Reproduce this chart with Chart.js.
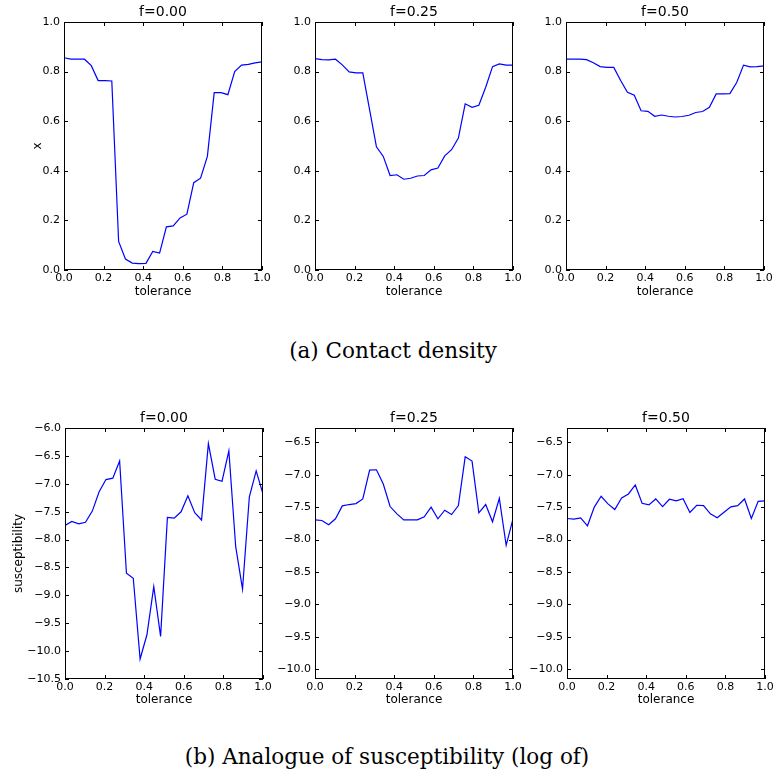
<!DOCTYPE html>
<html>
<head>
<meta charset="utf-8">
<script src="https://cdn.jsdelivr.net/npm/chart.js@4.4.1/dist/chart.umd.min.js"></script>
<style>
body { margin: 0; background: #fff; width: 774px; height: 776px; position: relative; overflow: hidden; }
canvas { position: absolute; }
.caption { position: absolute; left: 0; width: 774px; text-align: center; font-family: "DejaVu Serif"; font-size: 21.5px; line-height: 21.5px; color: #000; }
</style>
</head>
<body>
<canvas id="d0" width="276" height="300" style="left:0px;top:0px"></canvas>
<canvas id="d1" width="276" height="300" style="left:251px;top:0px"></canvas>
<canvas id="d2" width="276" height="300" style="left:502px;top:0px"></canvas>
<div class="caption" style="top:340px;left:6px">(a) Contact density</div>
<canvas id="s0" width="276" height="303" style="left:1px;top:406px"></canvas>
<canvas id="s1" width="276" height="303" style="left:251px;top:406px"></canvas>
<canvas id="s2" width="276" height="303" style="left:503px;top:406px"></canvas>
<div class="caption" style="top:746px">(b) Analogue of susceptibility (log of)</div>
<script>
// tolerance values (30 points from 0 to 1)
const tolerance = [0, 0.0345, 0.069, 0.1034, 0.1379, 0.1724, 0.2069, 0.2414, 0.2759, 0.3103,
    0.3448, 0.3793, 0.4138, 0.4483, 0.4828, 0.5172, 0.5517, 0.5862, 0.6207, 0.6552,
    0.6897, 0.7241, 0.7586, 0.7931, 0.8276, 0.8621, 0.8966, 0.931, 0.9655, 1];

const titles = ['f=0.00', 'f=0.25', 'f=0.50'];

// (a) contact density
const densityF000 = [0.856, 0.85, 0.85, 0.85, 0.824, 0.764, 0.764, 0.762, 0.115, 0.044,
    0.028, 0.026, 0.027, 0.075, 0.068, 0.174, 0.178, 0.21, 0.225, 0.352,
    0.37, 0.458, 0.715, 0.715, 0.707, 0.8, 0.826, 0.829, 0.835, 0.839];
const densityF025 = [0.852, 0.848, 0.847, 0.85, 0.827, 0.799, 0.795, 0.795, 0.646, 0.497,
    0.458, 0.381, 0.384, 0.366, 0.37, 0.379, 0.381, 0.404, 0.411, 0.46,
    0.485, 0.532, 0.67, 0.656, 0.664, 0.737, 0.82, 0.831, 0.826, 0.826];
const densityF050 = [0.85, 0.85, 0.85, 0.848, 0.836, 0.82, 0.817, 0.817, 0.764, 0.717,
    0.705, 0.642, 0.64, 0.62, 0.625, 0.62, 0.617, 0.619, 0.624, 0.635,
    0.639, 0.656, 0.71, 0.71, 0.711, 0.756, 0.826, 0.819, 0.82, 0.823];

// (b) susceptibility (log)
const suscF000 = [-7.746, -7.675, -7.72, -7.69, -7.49, -7.144, -6.924, -6.9, -6.59, -8.604,
    -8.694, -10.142, -9.707, -8.843, -9.737, -7.603, -7.615, -7.502, -7.216, -7.52,
    -7.65, -6.28, -6.918, -6.954, -6.41, -8.128, -8.89, -7.234, -6.769, -7.186];
const suscF025 = [-7.696, -7.706, -7.772, -7.68, -7.481, -7.46, -7.445, -7.374, -6.929, -6.924,
    -7.144, -7.491, -7.604, -7.696, -7.696, -7.696, -7.65, -7.5, -7.68, -7.548,
    -7.614, -7.476, -6.725, -6.79, -7.588, -7.46, -7.726, -7.364, -8.089, -7.68];
const suscF050 = [-7.675, -7.686, -7.665, -7.788, -7.5, -7.333, -7.45, -7.537, -7.358, -7.297,
    -7.159, -7.44, -7.466, -7.374, -7.491, -7.379, -7.404, -7.369, -7.583, -7.471,
    -7.476, -7.604, -7.665, -7.578, -7.496, -7.476, -7.374, -7.675, -7.41, -7.404];

Chart.defaults.font.family = 'DejaVu Sans';
Chart.defaults.font.size = 11;
Chart.defaults.color = '#000';

// matplotlib-like frame with inward ticks on all four sides
const frameTicks = {
    id: 'frameTicks',
    afterDraw(chart) {
        const { ctx, chartArea: a, scales: { x, y } } = chart;
        ctx.save();
        ctx.strokeStyle = '#000';
        ctx.lineWidth = 1;
        ctx.beginPath();
        x.ticks.forEach(t => {
            const px = Math.round(x.getPixelForValue(t.value)) + 0.5;
            ctx.moveTo(px, a.bottom); ctx.lineTo(px, a.bottom - 4);
            ctx.moveTo(px, a.top); ctx.lineTo(px, a.top + 4);
        });
        y.ticks.forEach(t => {
            const py = Math.round(y.getPixelForValue(t.value)) + 0.5;
            ctx.moveTo(a.left, py); ctx.lineTo(a.left + 4, py);
            ctx.moveTo(a.right, py); ctx.lineTo(a.right - 4, py);
        });
        ctx.stroke();
        ctx.strokeRect(a.left + 0.5, a.top + 0.5, a.right - a.left - 1, a.bottom - a.top - 1);
        ctx.restore();
    }
};

function fmt(v) {
    return (v < 0 ? '\u2212' : '') + Math.abs(v).toFixed(1);
}

function drawPanel(id, title, values, yOpts, yLabel, yLabelPad, xLabelPad) {
    const ctx = document.getElementById(id).getContext('2d');
    new Chart(ctx, {
        type: 'line',
        data: {
            datasets: [{
                data: tolerance.map((t, i) => ({ x: t, y: values[i] })),
                borderColor: '#0000ff',
                borderWidth: 1.2,
                pointRadius: 0,
                tension: 0,
                fill: false
            }]
        },
        options: {
            responsive: false,
            animation: false,
            devicePixelRatio: 1,
            layout: { padding: { right: 14 } },
            plugins: {
                legend: { display: false },
                tooltip: { enabled: false },
                title: {
                    display: true,
                    text: title,
                    fullSize: false,
                    font: { size: 14, weight: 'normal' },
                    padding: { top: 4, bottom: 1.2 }
                }
            },
            scales: {
                x: {
                    type: 'linear',
                    min: 0,
                    max: 1,
                    grid: { display: false, drawTicks: false },
                    border: { display: false },
                    ticks: { stepSize: 0.2, autoSkip: false, maxRotation: 0, padding: 2, callback: fmt },
                    title: { display: true, text: 'tolerance', font: { size: 12 }, padding: { top: 0, bottom: xLabelPad } },
                    afterFit(scale) { scale.height = 30; }
                },
                y: Object.assign({
                    grid: { display: false, drawTicks: false },
                    border: { display: false },
                    title: { display: !!yLabel, text: yLabel, font: { size: 12 }, padding: { top: yLabelPad, bottom: 0 } },
                    afterFit(scale) { scale.width = 64; }
                }, yOpts)
            }
        },
        plugins: [frameTicks]
    });
}

const densityY = { min: 0, max: 1, ticks: { stepSize: 0.2, padding: 4, callback: fmt } };
const suscYLeft = { min: -10.5, max: -6.0, ticks: { stepSize: 0.5, padding: 4, callback: fmt } };
const suscYRest = { min: -10.15, max: -6.28, ticks: { stepSize: 0.5, padding: 4, includeBounds: false, callback: fmt } };

drawPanel('d0', titles[0], densityF000, densityY, 'x', 30.8, 1.3);
drawPanel('d1', titles[1], densityF025, densityY, '', 0, 1.3);
drawPanel('d2', titles[2], densityF050, densityY, '', 0, 1.3);
drawPanel('s0', titles[0], suscF000, suscYLeft, 'susceptibility', 10.8, 1.5);
drawPanel('s1', titles[1], suscF025, suscYRest, '', 0, 1.5);
drawPanel('s2', titles[2], suscF050, suscYRest, '', 0, 1.5);
</script>
</body>
</html>
